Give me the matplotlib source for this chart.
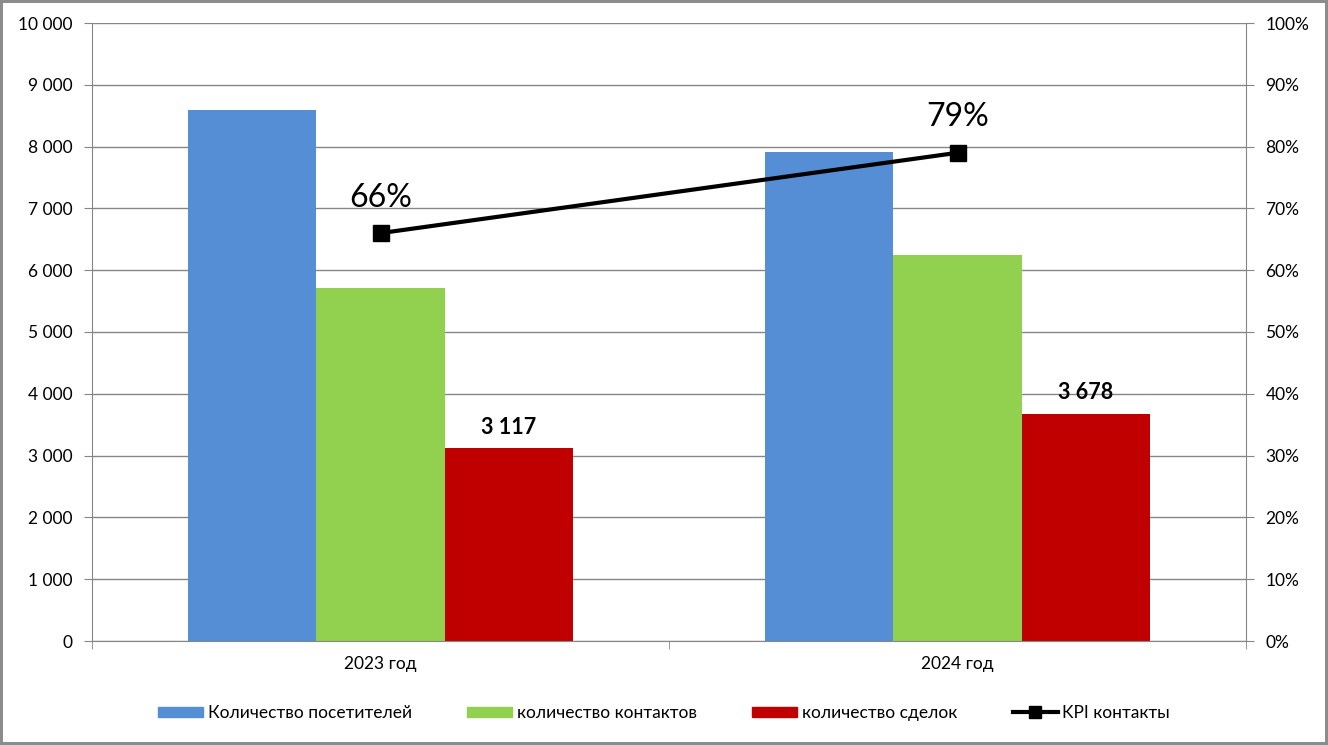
import matplotlib.pyplot as plt
import numpy as np
from matplotlib.ticker import FuncFormatter, MultipleLocator
from matplotlib.lines import Line2D
from matplotlib.patches import Patch

plt.rcParams['font.family'] = ['Lato', 'Open Sans', 'DejaVu Sans']

years = ['2023 год', '2024 год']
visitors = [8600, 7915]
contacts = [5710, 6245]
deals = [3117, 3678]
kpi = [0.66, 0.79]

names = ['Количество посетителей', 'количество контактов', 'количество сделок', 'KPI контакты']
colors = ['#558ED5', '#92D050', '#C00000']

fig = plt.figure(figsize=(13.28, 7.45), dpi=100)
fig.patch.set_edgecolor('#8c8c8c')
fig.patch.set_linewidth(3)
ax = fig.add_axes([92/1328, 1 - 641/745, (1246-92)/1328, (641-23)/745])

x = np.arange(len(years))
w = 0.222
for i, (vals, c) in enumerate(zip([visitors, contacts, deals], colors)):
    ax.bar(x + (i - 1) * w, vals, w, color=c, zorder=2)

for xi, v in zip(x, deals):
    ax.text(xi + w, v + 170, '{:,}'.format(v).replace(',', ' '), ha='center', va='bottom',
            fontsize=15.5, fontweight='bold')

ax.set_xlim(-0.5, 1.5)
ax.set_ylim(0, 10000)
ax.yaxis.set_major_locator(MultipleLocator(1000))
ax.yaxis.set_major_formatter(FuncFormatter(lambda v, p: '{:,}'.format(int(v)).replace(',', ' ')))
ax.grid(axis='y', color='#868686', linewidth=1, zorder=0)
ax.set_xticks(x)
ax.set_xticklabels(years, fontsize=12.5)
ax.set_xticks([-0.5, 0.5, 1.5], minor=True)
ax.tick_params(axis='x', which='major', length=0, pad=11)
ax.tick_params(axis='x', which='minor', length=6, color='#868686')
ax.tick_params(axis='y', length=6, color='#868686', labelsize=12.5, pad=8)
for s in ['top', 'right']:
    ax.spines[s].set_visible(False)
ax.spines['left'].set_color('#868686')
ax.spines['bottom'].set_color('#868686')

ax2 = ax.twinx()
ax2.plot(x, kpi, color='black', linewidth=3, marker='s', markersize=11, zorder=3)
for xi, v in zip(x, kpi):
    ax2.text(xi, v + 0.033, '{:.0f}%'.format(v * 100), ha='center', va='bottom', fontsize=23)
ax2.set_ylim(0, 1)
ax2.yaxis.set_major_locator(MultipleLocator(0.1))
ax2.yaxis.set_major_formatter(FuncFormatter(lambda v, p: '{:.0f}%'.format(v * 100)))
ax2.tick_params(axis='y', length=6, color='#868686', labelsize=12.5, pad=8)
for s in ['top', 'left', 'bottom']:
    ax2.spines[s].set_visible(False)
ax2.spines['right'].set_color('#868686')

handles = [Patch(color=c) for c in colors] + [
    Line2D([], [], color='black', linewidth=3, marker='s', markersize=9)]
fig.legend(handles, names, loc='center', bbox_to_anchor=(0.5, 1 - 713/745), ncol=4,
           frameon=False, fontsize=12.5, handlelength=2.6, handleheight=0.55,
           columnspacing=3.2, handletextpad=0.25)

fig.savefig('out.png', dpi=100, edgecolor=fig.get_edgecolor())
